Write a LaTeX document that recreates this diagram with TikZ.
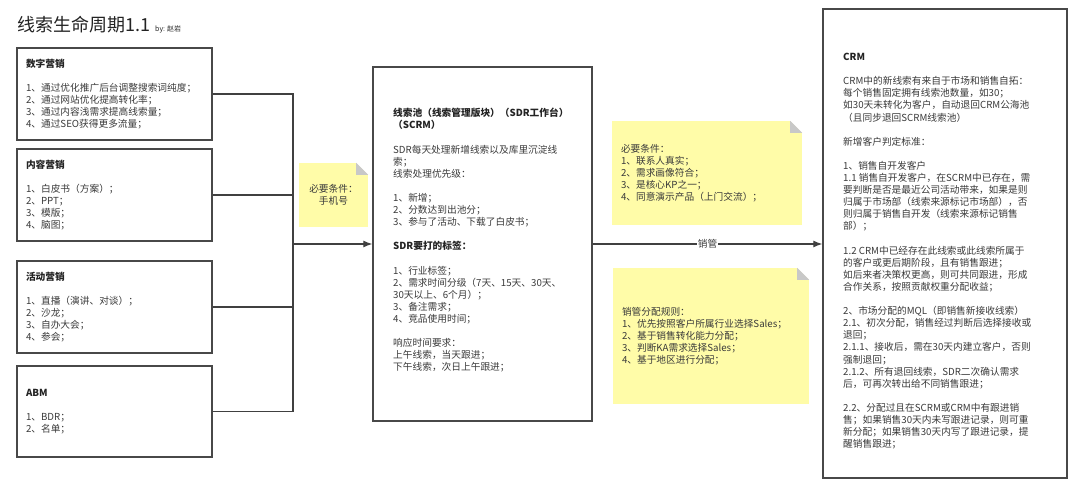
\documentclass[tikz,border=0pt]{standalone}
\usepackage{fontspec}
\setmainfont{Noto Sans CJK SC}
\usetikzlibrary{calc,arrows.meta}
\definecolor{notefill}{RGB}{255,252,168}
\definecolor{foldgray}{RGB}{200,200,200}
\definecolor{boxline}{RGB}{72,72,72}
\definecolor{bodytext}{RGB}{58,58,58}
\definecolor{headtext}{RGB}{35,35,35}
\tikzset{>={Latex[length=9pt,width=7pt]}}
\tikzset{
  srcbox/.style={draw=boxline, line width=1.4pt, fill=white, minimum width=195pt, minimum height=92pt,
    text width=177pt, inner xsep=9pt, align=left},
  bigbox/.style={draw=boxline, line width=1.4pt, fill=white},
  note/.style={fill=notefill, inner ysep=0pt},
  wire/.style={draw=black!75, line width=1.1pt},
}
\newcommand{\hd}[1]{{\bfseries\color{headtext}#1}}

\begin{document}
\begin{tikzpicture}[x=1pt,y=-1pt,every node/.style={font=\fontsize{9.7}{12.1}\selectfont, text=bodytext}]
\useasboundingbox (0,0) rectangle (1080,487);

% title
\node[anchor=base west, inner sep=0pt, font=\fontsize{18}{20}\selectfont, text=headtext] (title) at (17,32) {线索生命周期1.1};
\node[anchor=base west, inner sep=0pt, font=\fontsize{7}{8}\selectfont, text=headtext] (author) at (155,32) {by: 赵岩};

% lead sources
\node[srcbox] (digital) at (114.5,94) {\hd{数字营销}\\[12.1pt]
  1、通过优化推广后台调整搜索词纯度；\\
  2、通过网站优化提高转化率；\\
  3、通过内容浅需求提高线索量；\\
  4、通过SEO获得更多流量；};
\node[srcbox] (content) at (114.5,195) {\hd{内容营销}\\[12.1pt]
  1、白皮书（方案）；\\
  2、PPT；\\
  3、模版；\\
  4、脑图；};
\node[srcbox] (event) at (114.5,307) {\hd{活动营销}\\[12.1pt]
  1、直播（演讲、对谈）；\\
  2、沙龙；\\
  3、自办大会；\\
  4、参会；};
\node[srcbox, minimum height=91pt] (abm) at (114.5,411.5) {\hd{ABM}\\[12.1pt]
  1、BDR；\\
  2、名单；};

% lead pool
\node[bigbox, minimum width=219pt, minimum height=354pt] (scrm) at (482.5,244) {};
\node[anchor=north west, inner sep=0pt, align=left] (scrmtext) at (393,108) {\hd{线索池（线索管理版块）（SDR工作台）}\\
  \hd{（SCRM）}\\[12.1pt]
  SDR每天处理新增线索以及库里沉淀线\\
  索；\\
  线索处理优先级：\\[12.1pt]
  1、新增；\\
  2、分数达到出池分；\\
  3、参与了活动、下载了白皮书；\\[12.1pt]
  \hd{SDR要打的标签：}\\[12.1pt]
  1、行业标签；\\
  2、需求时间分级（7天、15天、30天、\\
  30天以上、6个月）；\\
  3、备注需求；\\
  4、竞品使用时间；\\[12.1pt]
  响应时间要求：\\
  上午线索，当天跟进；\\
  下午线索，次日上午跟进；};

% crm
\node[bigbox, minimum width=244pt, minimum height=469pt] (crm) at (945,243.5) {};
\node[anchor=north west, inner sep=0pt, align=left] (crmtext) at (843,53) {\hd{CRM}\\[12.1pt]
  CRM中的新线索有来自于市场和销售自拓：\\
  每个销售固定拥有线索池数量，如30；\\
  如30天未转化为客户，自动退回CRM公海池\\
  （且同步退回SCRM线索池）\\[12.1pt]
  新增客户判定标准：\\[12.1pt]
  1、销售自开发客户\\
  1.1 销售自开发客户，在SCRM中已存在，需\\
  要判断是否是最近公司活动带来，如果是则\\
  归属于市场部（线索来源标记市场部），否\\
  则归属于销售自开发（线索来源标记销售\\
  部）；\\[12.1pt]
  1.2 CRM中已经存在此线索或此线索所属于\\
  的客户或更后期阶段，且有销售跟进；\\
  如后来者决策权更高，则可共同跟进，形成\\
  合作关系，按照贡献权重分配收益；\\[12.1pt]
  2、市场分配的MQL（即销售新接收线索）\\
  2.1、初次分配，销售经过判断后选择接收或\\
  退回；\\
  2.1.1、接收后，需在30天内建立客户，否则\\
  强制退回；\\
  2.1.2、所有退回线索，SDR二次确认需求\\
  后，可再次转出给不同销售跟进；\\[12.1pt]
  2.2、分配过且在SCRM或CRM中有跟进销\\
  售；如果销售30天内未写跟进记录，则可重\\
  新分配；如果销售30天内写了跟进记录，提\\
  醒销售跟进；};

% notes
\node[note, minimum width=69pt, minimum height=64pt, align=center] (phone) at (333.5,195) {必要条件：\\手机号};
\node[note, minimum width=190pt, minimum height=104pt, text width=172pt, inner xsep=9pt, align=left] (leadcond) at (707,173) {必要条件：\\
  1、联系人真实；\\
  2、需求画像符合；\\
  3、是核心KP之一；\\
  4、同意演示产品（上门交流）；};
\node[note, minimum width=196pt, minimum height=136pt, text width=178pt, inner xsep=9pt, align=left] (assign) at (711,336) {销管分配规则：\\
  1、优先按照客户所属行业选择Sales；\\
  2、基于销售转化能力分配；\\
  3、判断KA需求选择Sales；\\
  4、基于地区进行分配；};
\foreach \n in {phone,leadcond,assign}{
  \fill[white] (\n.north east) -- ++(-12,0) -- ++(12,12) -- cycle;
  \fill[foldgray] (\n.north east) ++(-12,0) -- ++(0,12) -- ++(12,0) -- cycle;
}

% connectors
\coordinate (bus) at (293,244);
\draw[wire] (digital.east) -| (bus);
\draw[wire] (abm.east) -| (bus);
\draw[wire] (content.east) -- (content.east -| bus);
\draw[wire] (event.east) -- (event.east -| bus);
\draw[wire,->] (bus) -- (scrm.west |- bus);
\draw[wire,->] (scrm.east |- bus) -- node[fill=white, inner sep=1pt] (mgr) {销管} (crm.west |- bus);
\end{tikzpicture}
\end{document}
